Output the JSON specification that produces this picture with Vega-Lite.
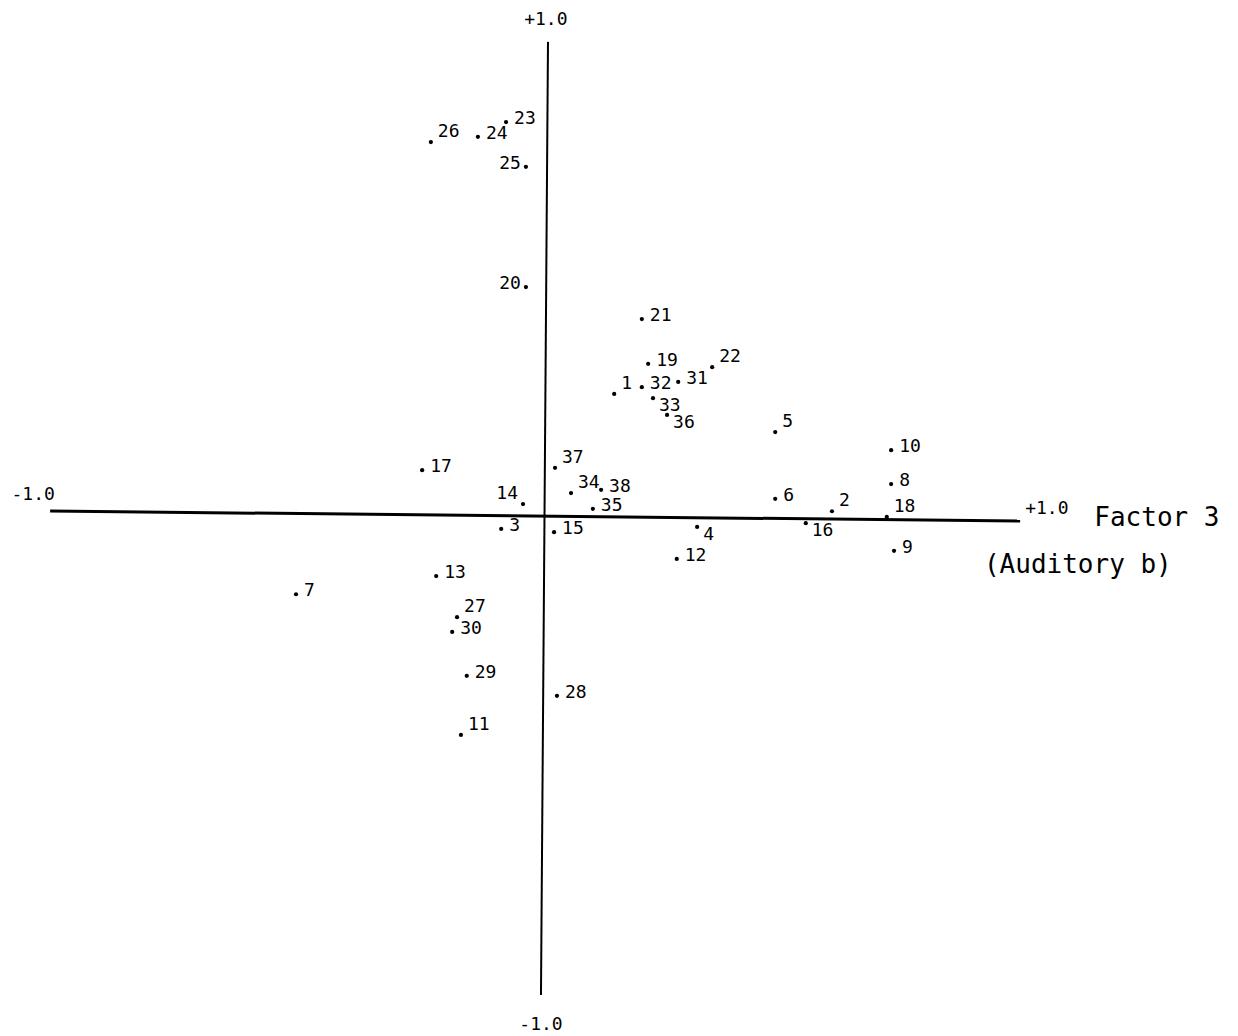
{
  "$schema": "https://vega.github.io/schema/vega-lite/v6.json",
  "width": 1238,
  "height": 1036,
  "padding": 0,
  "autosize": {"type": "none"},
  "background": "white",
  "config": {"view": {"stroke": null}, "axis": {"disable": true}},
  "datasets": {
    "points": [
      {"label": "1", "f3": 0.153, "f": 0.256},
      {"label": "2", "f3": 0.602, "f": 0.010},
      {"label": "3", "f3": -0.080, "f": -0.027},
      {"label": "4", "f3": 0.324, "f": -0.023},
      {"label": "5", "f3": 0.485, "f": 0.176},
      {"label": "6", "f3": 0.485, "f": 0.036},
      {"label": "7", "f3": -0.503, "f": -0.164},
      {"label": "8", "f3": 0.724, "f": 0.067},
      {"label": "9", "f3": 0.730, "f": -0.073},
      {"label": "10", "f3": 0.724, "f": 0.138},
      {"label": "11", "f3": -0.163, "f": -0.459},
      {"label": "12", "f3": 0.282, "f": -0.090},
      {"label": "13", "f3": -0.214, "f": -0.126},
      {"label": "14", "f3": -0.035, "f": 0.025},
      {"label": "15", "f3": 0.029, "f": -0.034},
      {"label": "16", "f3": 0.548, "f": -0.015},
      {"label": "17", "f3": -0.243, "f": 0.096},
      {"label": "18", "f3": 0.715, "f": -0.002},
      {"label": "19", "f3": 0.223, "f": 0.319},
      {"label": "20", "f3": -0.029, "f": 0.480},
      {"label": "21", "f3": 0.210, "f": 0.413},
      {"label": "22", "f3": 0.355, "f": 0.312},
      {"label": "23", "f3": -0.070, "f": 0.826},
      {"label": "24", "f3": -0.128, "f": 0.795},
      {"label": "25", "f3": -0.029, "f": 0.732},
      {"label": "26", "f3": -0.225, "f": 0.784},
      {"label": "27", "f3": -0.171, "f": -0.212},
      {"label": "28", "f3": 0.035, "f": -0.377},
      {"label": "29", "f3": -0.151, "f": -0.335},
      {"label": "30", "f3": -0.181, "f": -0.243},
      {"label": "31", "f3": 0.285, "f": 0.281},
      {"label": "32", "f3": 0.210, "f": 0.270},
      {"label": "33", "f3": 0.233, "f": 0.247},
      {"label": "34", "f3": 0.064, "f": 0.048},
      {"label": "35", "f3": 0.109, "f": 0.015},
      {"label": "36", "f3": 0.262, "f": 0.212},
      {"label": "37", "f3": 0.031, "f": 0.101},
      {"label": "38", "f3": 0.126, "f": 0.055}
    ],
    "axes": [
      {"axis": "h", "x": -1.010, "y": 0.0105, "x2": 0.990, "y2": -0.0105},
      {"axis": "v", "x": 0.0165, "y": 0.994, "x2": 0.002, "y2": -1.004}
    ],
    "ends": [
      {"text": "+1.0", "x": 0.012, "y": 1.04},
      {"text": "-1.0", "x": 0.002, "y": -1.067},
      {"text": "-1.0", "x": -1.045, "y": 0.044},
      {"text": "+1.0", "x": 1.045, "y": 0.015}
    ],
    "titles": [
      {"text": "Factor 3", "x": 1.272, "y": -0.004},
      {"text": "(Auditory b)", "x": 1.109, "y": -0.103}
    ]
  },
  "layer": [
    {
      "data": {"name": "axes"},
      "transform": [{"filter": "datum.axis == 'h'"}],
      "mark": {"type": "rule", "color": "black", "strokeWidth": 3},
      "encoding": {
        "x": {"field": "x", "type": "quantitative", "scale": {"domain": [-1.1134, 1.4392], "nice": false, "zero": false}},
        "y": {"field": "y", "type": "quantitative", "scale": {"domain": [-1.0901, 1.0818], "nice": false, "zero": false}},
        "x2": {"field": "x2"},
        "y2": {"field": "y2"}
      }
    },
    {
      "data": {"name": "axes"},
      "transform": [{"filter": "datum.axis == 'v'"}],
      "mark": {"type": "rule", "color": "black", "strokeWidth": 2},
      "encoding": {
        "x": {"field": "x", "type": "quantitative", "scale": {"domain": [-1.1134, 1.4392], "nice": false, "zero": false}},
        "y": {"field": "y", "type": "quantitative", "scale": {"domain": [-1.0901, 1.0818], "nice": false, "zero": false}},
        "x2": {"field": "x2"},
        "y2": {"field": "y2"}
      }
    },
    {
      "data": {"name": "points"},
      "mark": {"type": "point", "filled": true, "color": "black", "size": 18, "opacity": 1},
      "encoding": {
        "x": {"field": "f3", "type": "quantitative", "scale": {"domain": [-1.1134, 1.4392], "nice": false, "zero": false}},
        "y": {"field": "f", "type": "quantitative", "scale": {"domain": [-1.0901, 1.0818], "nice": false, "zero": false}}
      }
    },
    {
      "data": {"name": "points"},
      "transform": [{"filter": {"field": "label", "oneOf": ["24", "21", "19", "32", "31", "10", "6", "12", "9", "17", "38", "3", "15", "13", "7", "30", "29", "28", "23", "8", "35"]}}],
      "mark": {"type": "text", "align": "left", "baseline": "middle", "dx": 8, "dy": -3, "font": "DejaVu Sans Mono", "fontSize": 18, "color": "black"},
      "encoding": {
        "x": {"field": "f3", "type": "quantitative", "scale": {"domain": [-1.1134, 1.4392], "nice": false, "zero": false}},
        "y": {"field": "f", "type": "quantitative", "scale": {"domain": [-1.0901, 1.0818], "nice": false, "zero": false}},
        "text": {"field": "label"}
      }
    },
    {
      "data": {"name": "points"},
      "transform": [{"filter": {"field": "label", "oneOf": ["26", "22", "1", "37", "34", "5", "2", "18", "27", "11"]}}],
      "mark": {"type": "text", "align": "left", "baseline": "middle", "dx": 7, "dy": -10, "font": "DejaVu Sans Mono", "fontSize": 18, "color": "black"},
      "encoding": {
        "x": {"field": "f3", "type": "quantitative", "scale": {"domain": [-1.1134, 1.4392], "nice": false, "zero": false}},
        "y": {"field": "f", "type": "quantitative", "scale": {"domain": [-1.0901, 1.0818], "nice": false, "zero": false}},
        "text": {"field": "label"}
      }
    },
    {
      "data": {"name": "points"},
      "transform": [{"filter": {"field": "label", "oneOf": ["33", "36", "16", "4"]}}],
      "mark": {"type": "text", "align": "left", "baseline": "middle", "dx": 6, "dy": 8, "font": "DejaVu Sans Mono", "fontSize": 18, "color": "black"},
      "encoding": {
        "x": {"field": "f3", "type": "quantitative", "scale": {"domain": [-1.1134, 1.4392], "nice": false, "zero": false}},
        "y": {"field": "f", "type": "quantitative", "scale": {"domain": [-1.0901, 1.0818], "nice": false, "zero": false}},
        "text": {"field": "label"}
      }
    },
    {
      "data": {"name": "points"},
      "transform": [{"filter": {"field": "label", "oneOf": ["25", "20"]}}],
      "mark": {"type": "text", "align": "right", "baseline": "middle", "dx": -5, "dy": -3, "font": "DejaVu Sans Mono", "fontSize": 18, "color": "black"},
      "encoding": {
        "x": {"field": "f3", "type": "quantitative", "scale": {"domain": [-1.1134, 1.4392], "nice": false, "zero": false}},
        "y": {"field": "f", "type": "quantitative", "scale": {"domain": [-1.0901, 1.0818], "nice": false, "zero": false}},
        "text": {"field": "label"}
      }
    },
    {
      "data": {"name": "points"},
      "transform": [{"filter": {"field": "label", "oneOf": ["14"]}}],
      "mark": {"type": "text", "align": "right", "baseline": "middle", "dx": -5, "dy": -10, "font": "DejaVu Sans Mono", "fontSize": 18, "color": "black"},
      "encoding": {
        "x": {"field": "f3", "type": "quantitative", "scale": {"domain": [-1.1134, 1.4392], "nice": false, "zero": false}},
        "y": {"field": "f", "type": "quantitative", "scale": {"domain": [-1.0901, 1.0818], "nice": false, "zero": false}},
        "text": {"field": "label"}
      }
    },
    {
      "data": {"name": "ends"},
      "mark": {"type": "text", "align": "center", "baseline": "middle", "font": "DejaVu Sans Mono", "fontSize": 18, "color": "black"},
      "encoding": {
        "x": {"field": "x", "type": "quantitative", "scale": {"domain": [-1.1134, 1.4392], "nice": false, "zero": false}},
        "y": {"field": "y", "type": "quantitative", "scale": {"domain": [-1.0901, 1.0818], "nice": false, "zero": false}},
        "text": {"field": "text"}
      }
    },
    {
      "data": {"name": "titles"},
      "mark": {"type": "text", "align": "center", "baseline": "middle", "font": "DejaVu Sans Mono", "fontSize": 26, "color": "black"},
      "encoding": {
        "x": {"field": "x", "type": "quantitative", "scale": {"domain": [-1.1134, 1.4392], "nice": false, "zero": false}},
        "y": {"field": "y", "type": "quantitative", "scale": {"domain": [-1.0901, 1.0818], "nice": false, "zero": false}},
        "text": {"field": "text"}
      }
    }
  ]
}
